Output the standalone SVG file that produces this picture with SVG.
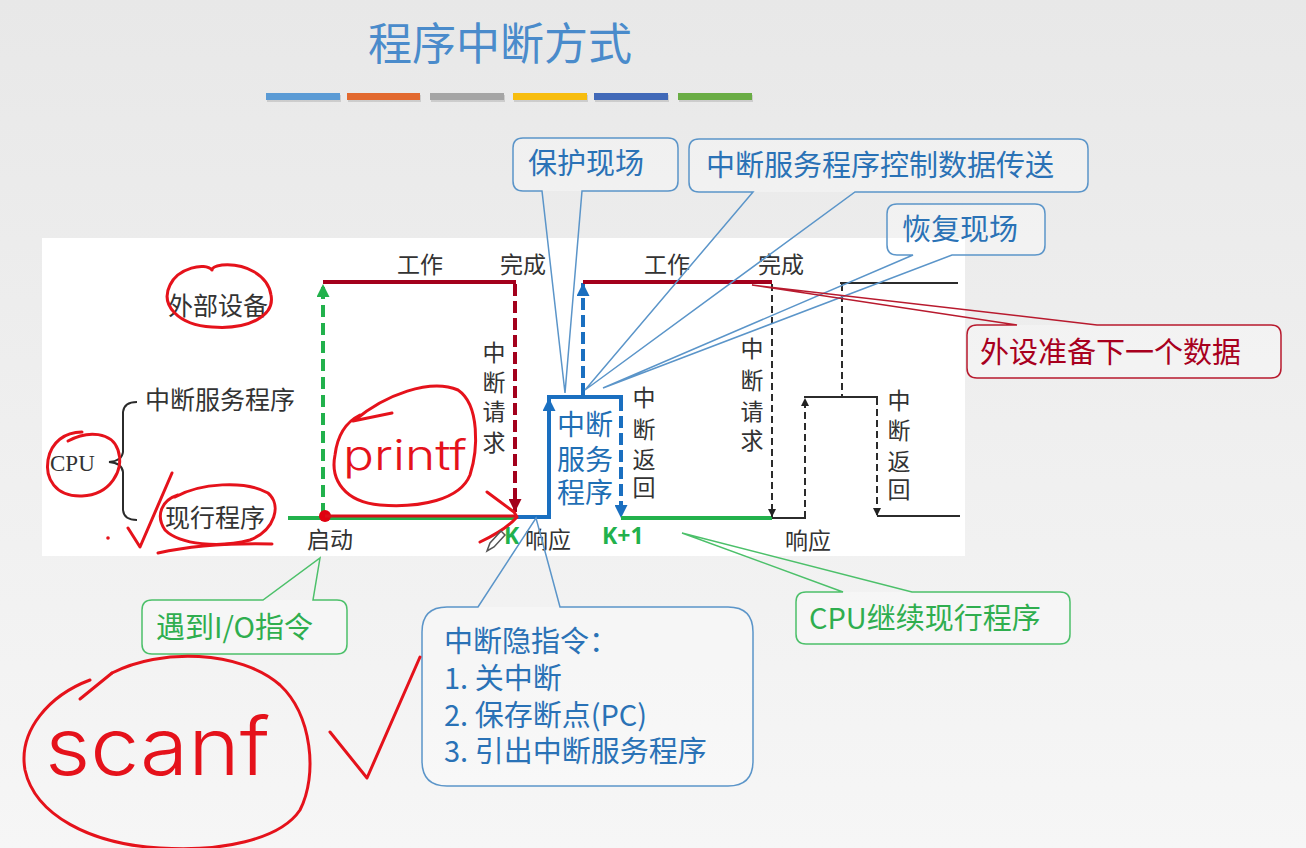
<svg xmlns="http://www.w3.org/2000/svg" width="1306" height="848" viewBox="0 0 1306 848">
<defs>
<linearGradient id="bg" x1="0" y1="0" x2="0" y2="1"><stop offset="0" stop-color="#e8e8e8"/><stop offset="1" stop-color="#f6f6f6"/></linearGradient>
<marker id="ag" viewBox="0 0 10 10" refX="10" refY="5" markerUnits="userSpaceOnUse" markerWidth="16" markerHeight="13" orient="auto"><path d="M0,0 L10,5 L0,10 z" fill="#22b14c"/></marker>
<marker id="ar" viewBox="0 0 10 10" refX="10" refY="5" markerUnits="userSpaceOnUse" markerWidth="16" markerHeight="13" orient="auto"><path d="M0,0 L10,5 L0,10 z" fill="#a3001c"/></marker>
<marker id="ab" viewBox="0 0 10 10" refX="10" refY="5" markerUnits="userSpaceOnUse" markerWidth="16" markerHeight="13" orient="auto"><path d="M0,0 L10,5 L0,10 z" fill="#1a6fc0"/></marker>
<marker id="ak" viewBox="0 0 10 10" refX="10" refY="5" markerUnits="userSpaceOnUse" markerWidth="14" markerHeight="8" orient="auto"><path d="M0,0 L10,5 L0,10 z" fill="#222"/></marker>
</defs>
<style>
.cn{font-family:"Liberation Serif","Noto Sans CJK SC",serif;fill:#333;font-size:23px}
.lb{font-size:25px}
.vt{text-anchor:middle}
.co{font-family:"Noto Sans CJK SC","Open Sans",sans-serif;font-size:29px}
.bt{fill:#2a72b6}
.bb{fill:none;stroke:#5b95c9;stroke-width:1.5}
.gt{fill:#2fae4f}
.gb{fill:none;stroke:#4cc06a;stroke-width:1.5}
.rt{fill:#a8001e}
.rb{fill:none;stroke:#b81a2e;stroke-width:1.5}
.bxf{fill:#ffffff;fill-opacity:0.3;stroke:none}
.hw{fill:none;stroke:#e5121b;stroke-width:3;stroke-linecap:round;stroke-linejoin:round}
.hwt{font-family:Inter,"DejaVu Sans",sans-serif;font-weight:300;fill:#e5121b}
.k{stroke:#2b2b2b;stroke-width:2;fill:none}
.kd{stroke:#2b2b2b;stroke-width:2;fill:none;stroke-dasharray:7 4}
.kl{font-family:"Open Sans","Noto Sans",sans-serif;font-weight:bold;font-size:23px;fill:#22b14c}
</style>

<rect x="0" y="0" width="1306" height="848" fill="url(#bg)"/>
<rect x="42" y="238" width="923" height="318" fill="#ffffff"/>

<g id="title">
<text x="500" y="60" text-anchor="middle" font-family="Noto Sans CJK SC,sans-serif" font-size="44" fill="#4a8bcb">程序中断方式</text>
</g>
<g id="bars">
<rect x="267" y="95" width="74" height="7" fill="#000" opacity="0.12"/>
<rect x="266" y="93" width="74" height="7" fill="#5b9bd5"/>
<rect x="348" y="95" width="73" height="7" fill="#000" opacity="0.12"/>
<rect x="347" y="93" width="73" height="7" fill="#e2692f"/>
<rect x="431" y="95" width="74" height="7" fill="#000" opacity="0.12"/>
<rect x="430" y="93" width="74" height="7" fill="#a5a5a5"/>
<rect x="514" y="95" width="74" height="7" fill="#000" opacity="0.12"/>
<rect x="513" y="93" width="74" height="7" fill="#f7bd0f"/>
<rect x="595" y="95" width="74" height="7" fill="#000" opacity="0.12"/>
<rect x="594" y="93" width="74" height="7" fill="#4169b8"/>
<rect x="679" y="95" width="74" height="7" fill="#000" opacity="0.12"/>
<rect x="678" y="93" width="74" height="7" fill="#6aad45"/>
</g>

<g id="labels">
<text class="cn lb" x="168" y="315">外部设备</text>
<text class="cn lb" x="145" y="409">中断服务程序</text>
<text class="cn" x="50" y="471" font-size="24">CPU</text>
<text class="cn lb" x="165" y="527" font-size="26">现行程序</text>
<path class="k" d="M137,402 Q124,402 123,412 L123,452 Q122,461 109,462 Q122,463 123,472 L123,510 Q124,520 137,520"/>
<text class="cn" x="397" y="273" font-size="24">工作</text>
<text class="cn" x="500" y="273" font-size="24">完成</text>
<text class="cn" x="644" y="273" font-size="24">工作</text>
<text class="cn" x="758" y="273" font-size="24">完成</text>
<text class="cn" x="307" y="548" font-size="24">启动</text>
<text class="cn" x="525" y="548" font-size="24">响应</text>
<text class="cn" x="785" y="549" font-size="24">响应</text>
<text class="kl" x="504" y="544">K</text>
<text class="kl" x="602" y="544">K+1</text>
<text class="cn vt"><tspan x="494" y="361">中</tspan><tspan x="494" y="391">断</tspan><tspan x="494" y="420">请</tspan><tspan x="494" y="451">求</tspan></text>
<text class="cn vt"><tspan x="644" y="406">中</tspan><tspan x="644" y="438">断</tspan><tspan x="644" y="468">返</tspan><tspan x="644" y="496">回</tspan></text>
<text class="cn vt"><tspan x="752" y="357">中</tspan><tspan x="752" y="389">断</tspan><tspan x="752" y="420">请</tspan><tspan x="752" y="449">求</tspan></text>
<text class="cn vt"><tspan x="899" y="409">中</tspan><tspan x="899" y="439">断</tspan><tspan x="899" y="470">返</tspan><tspan x="899" y="498">回</tspan></text>
<text font-family="Noto Sans CJK SC,sans-serif" font-size="28" fill="#1f6fb5"><tspan x="557" y="435">中断</tspan><tspan x="557" y="470">服务</tspan><tspan x="557" y="503">程序</tspan></text>
</g>

<g id="connectors">
<line x1="288" y1="518" x2="515" y2="518" stroke="#22b14c" stroke-width="4"/>
<line x1="323" y1="515" x2="323" y2="284" stroke="#22b14c" stroke-width="4" stroke-dasharray="12 6" marker-end="url(#ag)"/>
<line x1="323" y1="282" x2="516" y2="282" stroke="#a3001c" stroke-width="4"/>
<line x1="515" y1="284" x2="515" y2="512" stroke="#a3001c" stroke-width="4" stroke-dasharray="12 5" marker-end="url(#ar)"/>
<polyline points="515,517 549,517 549,398" fill="none" stroke="#1a6fc0" stroke-width="4" marker-end="url(#ab)"/>
<line x1="547" y1="397" x2="623" y2="397" stroke="#1a6fc0" stroke-width="4"/>
<line x1="621" y1="399" x2="621" y2="518" stroke="#1a6fc0" stroke-width="4" stroke-dasharray="12 5" marker-end="url(#ab)"/>
<line x1="583" y1="395" x2="583" y2="283" stroke="#1a6fc0" stroke-width="4" stroke-dasharray="12 5" marker-end="url(#ab)"/>
<line x1="583" y1="282" x2="772" y2="282" stroke="#a3001c" stroke-width="4"/>
<line x1="621" y1="518" x2="772" y2="518" stroke="#22b14c" stroke-width="4"/>
<line class="kd" x1="772" y1="284" x2="772" y2="517" marker-end="url(#ak)"/>
<line class="k" x1="772" y1="518" x2="806" y2="518"/>
<line class="kd" x1="805" y1="518" x2="805" y2="398" marker-end="url(#ak)"/>
<line class="k" x1="804" y1="397" x2="878" y2="397"/>
<line class="kd" x1="877" y1="398" x2="877" y2="516" marker-end="url(#ak)"/>
<line class="k" x1="877" y1="516" x2="960" y2="516"/>
<line class="k" x1="840" y1="283" x2="958" y2="283"/>
<line class="kd" x1="842" y1="284" x2="842" y2="397"/>
<circle cx="325" cy="516" r="6" fill="#e00010"/>
</g>

<g id="callout-protect">
<rect class="bxf" x="513" y="138" width="165" height="53" rx="10"/>
<path class="bb" d="M523,138 H668 Q678,138 678,148 V181 Q678,191 668,191 H582 L565,393 L542,191 H523 Q513,191 513,181 V148 Q513,138 523,138 Z"/>
<text class="co bt" x="528" y="174">保护现场</text>
</g>
<g id="callout-transfer">
<rect class="bxf" x="689" y="139" width="399" height="53" rx="10"/>
<path class="bb" d="M699,139 H1078 Q1088,139 1088,149 V182 Q1088,192 1078,192 H855 L585,390 L753,192 H699 Q689,192 689,182 V149 Q689,139 699,139 Z"/>
<text class="co bt" x="706" y="176">中断服务程序控制数据传送</text>
</g>
<g id="callout-restore">
<rect class="bxf" x="887" y="204" width="158" height="51" rx="10"/>
<path class="bb" d="M897,204 H1035 Q1045,204 1045,214 V245 Q1045,255 1035,255 H952 L603,388 L913,255 H897 Q887,255 887,245 V214 Q887,204 897,204 Z"/>
<text class="co bt" x="902" y="240">恢复现场</text>
</g>
<g id="callout-next">
<rect class="bxf" x="967" y="325" width="314" height="53" rx="10"/>
<path class="rb" d="M977,325 H1017 L752,285 L1097,325 H1271 Q1281,325 1281,335 V368 Q1281,378 1271,378 H977 Q967,378 967,368 V335 Q967,325 977,325 Z"/>
<text class="co rt" x="980" y="363">外设准备下一个数据</text>
</g>
<g id="callout-continue">
<rect class="bxf" x="796" y="592" width="274" height="52" rx="10"/>
<path class="gb" d="M806,592 H843 L682,533 L912,592 H1060 Q1070,592 1070,602 V634 Q1070,644 1060,644 H806 Q796,644 796,634 V602 Q796,592 806,592 Z"/>
<text class="co gt" x="809" y="629" font-size="28">CPU继续现行程序</text>
</g>
<g id="callout-io">
<rect class="bxf" x="142" y="600" width="205" height="54" rx="10"/>
<path class="gb" d="M152,600 H263 L320,558 L313,600 H337 Q347,600 347,610 V644 Q347,654 337,654 H152 Q142,654 142,644 V610 Q142,600 152,600 Z"/>
<text class="co gt" x="156" y="638" font-size="27">遇到I/O指令</text>
</g>
<g id="callout-hidden">
<rect class="bxf" x="422" y="607" width="331" height="179" rx="25"/>
<path class="bb" d="M447,607 H478 L536,518 L560,607 H728 Q753,607 753,632 V761 Q753,786 728,786 H447 Q422,786 422,761 V632 Q422,607 447,607 Z"/>
<text class="co bt" font-size="27"><tspan x="444" y="652">中断隐指令：</tspan><tspan x="444" y="689">1. 关中断</tspan><tspan x="444" y="726">2. 保存断点(PC)</tspan><tspan x="444" y="762">3. 引出中断服务程序</tspan></text>
</g>

<g id="handwriting">
<path class="hw" d="M212,270 C205,262 178,268 170,285 C160,305 178,325 212,327 C250,330 275,315 271,295 C268,275 245,263 222,265 C215,266 212,268 212,270"/>
<path class="hw" d="M68,441 C88,430 112,432 118,450 C125,470 110,495 82,496 C55,497 45,478 48,460 C51,442 65,432 82,432"/>
<path class="hw" d="M128,528 L140,547 L172,473"/>
<circle cx="108" cy="538" r="1.8" fill="#e5121b"/>
<path class="hw" d="M175,497 C200,483 245,480 268,493 C282,505 275,530 250,540 C220,548 180,545 165,530 C155,515 162,500 178,495"/>
<path class="hw" d="M158,553 C190,546 230,543 272,544"/>
<line x1="325" y1="516" x2="515" y2="516" stroke="#d8101a" stroke-width="3"/>
<path class="hw" d="M355,420 C385,395 430,378 458,390 C480,405 478,450 470,475 C460,500 420,508 380,505 C345,502 330,480 335,455 C338,430 350,420 360,415"/>
<path class="hw" d="M353,421 L392,413"/>
<text class="hwt" x="343" y="470" font-size="42" textLength="124" lengthAdjust="spacingAndGlyphs">printf</text>
<path class="hw" d="M487,492 L514,512 L517,517 C510,525 495,535 480,542"/>
<path class="hw" d="M112,673 C160,648 240,650 280,685 C312,715 318,775 300,810 C280,840 220,852 160,848 C90,844 35,815 25,770 C18,730 50,695 90,680"/>
<path class="hw" d="M80,699 L112,673"/>
<text class="hwt" x="45" y="775" font-size="80" textLength="225" lengthAdjust="spacingAndGlyphs">scanf</text>
<path class="hw" d="M330,732 L367,778 L420,657"/>
<path d="M487,551 L490,543 L501,531 L505,535 L494,547 Z" fill="none" stroke="#555" stroke-width="1.5"/>
</g>
</svg>
